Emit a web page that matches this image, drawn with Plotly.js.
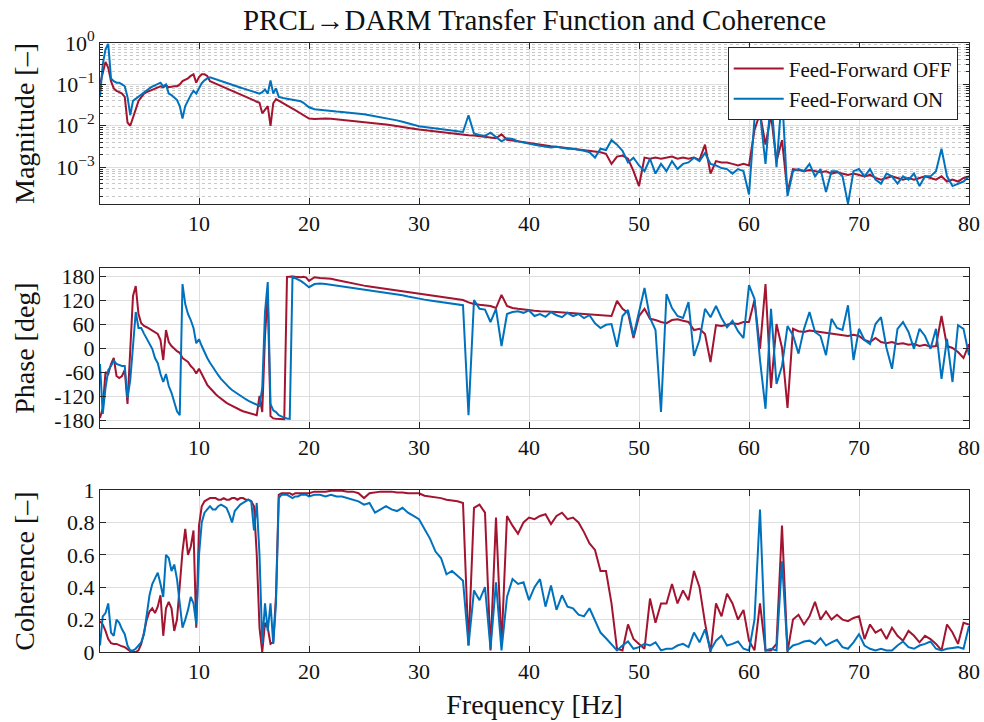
<!DOCTYPE html>
<html>
<head>
<meta charset="utf-8">
<script src="https://cdn.plot.ly/plotly-3.0.1.min.js"></script>
<style>html,body{margin:0;padding:0;background:#fff;}#chart{width:984px;height:722px;}</style>
</head>
<body>
<div id="chart"></div>
<script>
// Frequency axis [Hz]
const freq = [
  1.00,1.25,1.50,1.75, 2.00,2.25,2.50,2.75, 3.00,3.25,3.50,3.75, 4.00,4.25,4.50,4.75,
  5.00,5.25,5.50,5.75, 6.00,6.25,6.50,6.75, 7.00,7.25,7.50,7.75, 8.00,8.25,8.50,8.75,
  9.00,9.25,9.50,9.75, 10.00,10.25,10.50,10.75, 11.00,11.25,11.50,11.75, 12.00,12.25,12.50,12.75,
  13.00,13.25,13.50,13.75, 14.00,14.25,14.50,14.75, 15.00,15.25,15.50,15.75, 16.00,16.25,16.50,16.75,
  17.00,17.25,17.50,17.75, 18.00,18.25,18.50,18.75, 19.00,19.25,19.50,19.75, 20.00,
  20.5,21,21.5,22,22.5,23,23.5,24,24.5,25,
  25.5,26,26.5,27,27.5,28,28.5,29,29.5,30,
  30.5,31,31.5,32,32.5,33,33.5,34,34.5,35,
  35.5,36,36.5,37,37.5,38,38.5,39,39.5,40,
  40.5,41,41.5,42,42.5,43,43.5,44,44.5,45,
  45.5,46,46.5,47,47.5,48,48.5,49,49.5,50,
  50.5,51,51.5,52,52.5,53,53.5,54,54.5,55,
  55.5,56,56.5,57,57.5,58,58.5,59,59.5,60,
  60.5,61,61.5,62,62.5,63,63.5,64,64.5,65,
  65.5,66,66.5,67,67.5,68,68.5,69,69.5,70,
  70.5,71,71.5,72,72.5,73,73.5,74,74.5,75,
  75.5,76,76.5,77,77.5,78,78.5,79,79.5,80
];

// Magnitude [-], Feed-Forward OFF
const magOff = [
  0.1,0.2,0.35,0.25, 0.12,0.08,0.07,0.065, 0.06,0.05,0.012,0.01, 0.015,0.025,0.04,0.05,
  0.06,0.065,0.07,0.075, 0.08,0.085,0.09,0.085, 0.095,0.085,0.088,0.09, 0.09,0.1,0.12,0.13,
  0.14,0.16,0.175,0.11, 0.15,0.175,0.175,0.16, 0.12,0.112,0.105,0.098, 0.091,0.085,0.079,0.074,
  0.07,0.066,0.062,0.058, 0.054,0.05,0.047,0.044, 0.041,0.038,0.036,0.02, 0.025,0.03,0.01,0.035,
  0.044,0.04,0.037,0.034, 0.031,0.028,0.026,0.024, 0.022,0.02,0.018,0.0165, 0.015,
  0.0145,0.0148,0.015,0.0147,0.0143,0.0139,0.0135,0.0131,0.0127,0.0123,
  0.0119,0.0115,0.0111,0.0107,0.0103,0.0099,0.0094,0.009,0.0085,0.0081,
  0.0078,0.0075,0.0072,0.0069,0.0067,0.0065,0.0063,0.0061,0.0059,0.0058,
  0.0056,0.0054,0.0052,0.005,0.0062,0.0046,0.0044,0.0042,0.004,0.0038,
  0.0036,0.0034,0.0033,0.0032,0.0031,0.003,0.0029,0.0028,0.0027,0.0026,
  0.0025,0.0024,0.0023,0.0021,0.0012,0.0018,0.0019,0.0016,0.0008,0.00035,
  0.0017,0.0016,0.0017,0.0016,0.0017,0.0018,0.0016,0.0017,0.0016,0.0017,
  0.0015,0.0035,0.0007,0.0014,0.0013,0.0013,0.0012,0.0011,0.0012,0.0011,
  0.008,0.02,0.0035,0.018,0.0014,0.0045,0.00025,0.0009,0.00085,0.0008,
  0.00085,0.0008,0.00075,0.0008,0.0007,0.00075,0.0007,0.00065,0.0007,0.00065,
  0.0006,0.00065,0.00055,0.0005,0.00055,0.0006,0.00055,0.0005,0.00055,0.0005,
  0.00055,0.0006,0.00055,0.0005,0.0006,0.00045,0.0005,0.00045,0.00055,0.0006
];

// Magnitude [-], Feed-Forward ON
const magOn = [
  0.05,0.3,0.7,0.95, 0.14,0.12,0.11,0.11, 0.1,0.09,0.05,0.018, 0.04,0.045,0.05,0.058,
  0.066,0.072,0.08,0.088, 0.096,0.1,0.11,0.09, 0.1,0.06,0.055,0.048, 0.042,0.03,0.015,0.03,
  0.042,0.055,0.07,0.06, 0.08,0.107,0.125,0.14, 0.148,0.14,0.133,0.126, 0.12,0.114,0.108,0.103,
  0.098,0.093,0.088,0.084, 0.08,0.076,0.072,0.069, 0.066,0.063,0.06,0.065, 0.075,0.06,0.125,0.06,
  0.08,0.05,0.047,0.046, 0.045,0.044,0.043,0.042, 0.041,0.039,0.036,0.031, 0.028,
  0.025,0.024,0.023,0.0225,0.022,0.0215,0.021,0.0205,0.0195,0.019,
  0.018,0.017,0.0162,0.0155,0.0145,0.0135,0.0125,0.0115,0.0107,0.0098,
  0.0094,0.009,0.0086,0.0082,0.0079,0.0076,0.0073,0.0071,0.018,0.0065,
  0.006,0.0057,0.0068,0.0052,0.0042,0.005,0.0048,0.0042,0.004,0.0037,
  0.0035,0.0033,0.0032,0.003,0.0031,0.0029,0.0028,0.0028,0.0027,0.0025,
  0.0023,0.0017,0.0028,0.0026,0.0045,0.0035,0.0025,0.0013,0.0017,0.0011,
  0.0008,0.0016,0.0007,0.0012,0.0008,0.0014,0.0009,0.0012,0.0013,0.0017,
  0.0014,0.0022,0.0012,0.0011,0.00095,0.0009,0.0007,0.0009,0.0008,0.00022,
  0.015,0.02,0.0012,0.05,0.001,0.06,0.0002,0.0008,0.0009,0.0008,
  0.0012,0.0006,0.0009,0.00025,0.0008,0.0008,0.0006,0.00013,0.0008,0.0009,
  0.0006,0.0009,0.0005,0.0004,0.0007,0.0006,0.0004,0.0006,0.0005,0.0007,
  0.00035,0.0006,0.0006,0.0008,0.0028,0.0006,0.00035,0.0004,0.00045,0.0006
];

// Phase [deg], Feed-Forward OFF
const phaseOff = [
  -175,-150,-60,-65, -40,-25,-70,-75, -70,-55,-140,-20, 130,155,85,62,
  55,52,48,45, 40,35,20,-30, 45,15,5,-2, -8,-12,-25,-30,
  -35,-45,-52,-64, -52,-65,-80,-92, -100,-108,-115,-121, -127,-132,-137,-141,
  -145,-149,-152,-155, -158,-160,-162,-164, -166,-168,-120,-160, 30,135,-170,-176,
  -177,-177,-178,-178, 178,179,179,178, 177,177,178,176, 168,
  177,175,174,173,170,167,164,161,158,156,
  154,152,150,148,146,144,142,140,138,136,
  134,132,130,128,126,124,122,120,114,110,
  108,106,105,100,133,105,100,98,96,94,
  93,92,92,91,90,89,88,87,86,85,
  84,83,82,81,80,118,98,88,25,80,
  98,73,70,65,62,70,72,68,65,45,
  48,35,-35,57,55,58,62,60,65,65,
  120,-2,160,-100,60,0,-150,48,42,40,
  44,42,40,38,36,35,32,30,33,30,
  20,15,25,15,12,15,10,12,8,10,
  5,8,3,5,80,5,0,-10,-25,10
];

// Phase [deg], Feed-Forward ON
const phaseOn = [
  -40,-165,-100,-55, -45,-32,-40,-43, -45,-45,-125,-80, -5,90,50,50,
  36,22,10,-2, -25,-38,-65,-85, -65,-95,-112,-135, -158,-168,160,110,
  85,70,50,12, 22,5,-12,-25, -37,-48,-58,-68, -77,-85,-92,-99,
  -105,-110,-115,-120, -124,-128,-132,-135, -138,-141,-145,-100, 90,165,-140,-156,
  -160,-168,-172,-174, -176,-177,178,175, 172,168,163,157, 152,
  160,161,160,158,157,155,153,151,149,147,
  145,143,141,139,137,135,132,129,126,123,
  121,119,117,115,113,111,109,107,-168,120,
  98,96,65,98,5,85,90,92,88,94,
  80,85,78,90,82,77,88,80,85,75,
  82,62,50,58,60,3,80,95,30,90,
  150,75,45,-160,135,100,80,75,115,-20,
  20,98,77,105,75,52,68,42,25,157,
  123,-30,-152,98,-90,-45,55,32,-14,48,
  90,40,30,-18,73,50,45,107,-30,48,
  20,10,60,77,0,-52,48,65,40,-2,
  48,30,-2,48,-77,23,-85,57,48,-18
];

// Coherence [-], Feed-Forward OFF
const cohOff = [
  0.19,0.17,0.13,0.08, 0.055,0.05,0.05,0.04, 0.035,0.03,0.015,0.005, 0,0,0.01,0.05,
  0.12,0.2,0.25,0.27, 0.24,0.28,0.35,0.1, 0.27,0.31,0.27,0.13, 0.2,0.42,0.62,0.76,
  0.6,0.65,0.75,0.15, 0.78,0.9,0.93,0.94, 0.95,0.95,0.95,0.94, 0.94,0.95,0.94,0.94,
  0.95,0.95,0.94,0.95, 0.95,0.94,0.94,0.93, 0.9,0.6,0.15,0, 0.18,0.15,0.05,0.06,
  0.35,0.97,0.98,0.98, 0.98,0.98,0.97,0.98, 0.98,0.98,0.98,0.98, 0.98,
  0.99,0.99,0.99,0.995,0.995,0.995,0.99,0.99,0.98,0.95,
  0.98,0.985,0.99,0.99,0.99,0.985,0.985,0.98,0.98,0.98,
  0.965,0.96,0.955,0.95,0.94,0.935,0.93,0.92,0.04,0.89,
  0.91,0.86,0.01,0.83,0.04,0.84,0.78,0.73,0.8,0.83,
  0.82,0.84,0.85,0.79,0.84,0.86,0.82,0.83,0.8,0.74,
  0.67,0.63,0.5,0.5,0.3,0.02,0.01,0.17,0.08,0.05,
  0.02,0.33,0.18,0.3,0.3,0.42,0.3,0.38,0.32,0.5,
  0.4,0.18,0,0.3,0.22,0.36,0.3,0.2,0.26,0.07,
  0.01,0.3,0.01,0.01,0.05,0.78,0,0.2,0.23,0.17,
  0.22,0.31,0.2,0.25,0.2,0.23,0.2,0.19,0.21,0.22,
  0.08,0.17,0.12,0.14,0.08,0.15,0.1,0.07,0.13,0.1,
  0.06,0.1,0.08,0.05,0.01,0.17,0.12,0.05,0.18,0.17
];

// Coherence [-], Feed-Forward ON
const cohOn = [
  0.04,0.22,0.24,0.3, 0.12,0.1,0.2,0.18, 0.14,0.11,0.04,0.01, 0.01,0.02,0.04,0.06,
  0.11,0.24,0.35,0.42, 0.46,0.49,0.42,0.34, 0.6,0.58,0.5,0.54, 0.45,0.28,0.15,0.2,
  0.26,0.34,0.3,0.17, 0.6,0.8,0.86,0.88, 0.9,0.88,0.88,0.9, 0.91,0.9,0.89,0.85,
  0.8,0.87,0.89,0.91, 0.92,0.93,0.94,0.93, 0.75,0.92,0.6,0.05, 0.3,0.13,0.3,0.05,
  0.3,0.95,0.97,0.97, 0.97,0.96,0.95,0.96, 0.96,0.97,0.97,0.97, 0.96,
  0.97,0.97,0.96,0.97,0.96,0.96,0.95,0.94,0.93,0.91,
  0.92,0.86,0.88,0.9,0.88,0.87,0.89,0.86,0.84,0.82,
  0.76,0.7,0.62,0.58,0.48,0.5,0.47,0.44,0.04,0.38,
  0.32,0.4,0.02,0.43,0.01,0.34,0.45,0.42,0.43,0.32,
  0.4,0.45,0.28,0.41,0.26,0.35,0.28,0.27,0.23,0.22,
  0.27,0.2,0.12,0.085,0.05,0.01,0.04,0.065,0.02,0.03,
  0.05,0.04,0.06,0.01,0.02,0.02,0.04,0.05,0.03,0.12,
  0.06,0.14,0.01,0.07,0.1,0.04,0.05,0.065,0.02,0.01,
  0.2,0.88,0.01,0.02,0.01,0.56,0.01,0.04,0.05,0.065,
  0.07,0.05,0.085,0.04,0.06,0.075,0.03,0.02,0.06,0.11,
  0.04,0.02,0.01,0.02,0.01,0.01,0.04,0.065,0.03,0.02,
  0.04,0.05,0.065,0.02,0.01,0.02,0.025,0.03,0.02,0.16
];

const seriesNames = ['Feed-Forward OFF', 'Feed-Forward ON'];
const xTicks = [10, 20, 30, 40, 50, 60, 70, 80];
const magTicks = [0.001, 0.01, 0.1, 1];
const magTickText = ['10<sup>−3</sup>', '10<sup>−2</sup>', '10<sup>−1</sup>', '10<sup>0</sup>'];
const phaseTicks = [-180, -120, -60, 0, 60, 120, 180];
const phaseTickText = ['-180', '-120', '-60', '0', '60', '120', '180'];
const cohTicks = [0, 0.2, 0.4, 0.6, 0.8, 1];
const cohTickText = ['0', '0.2', '0.4', '0.6', '0.8', '1'];

[magOff, magOn, phaseOff, phaseOn, cohOff, cohOn].forEach(function (a, i) {
  if (a.length !== freq.length) throw new Error('length mismatch in series ' + i + ': ' + a.length + ' vs ' + freq.length);
});

// minor log grid (2..9 x decade)
const magMinor = [];
[0.0001, 0.001, 0.01, 0.1].forEach(function (d) {
  for (let k = 2; k <= 9; k++) magMinor.push(+(k * d).toPrecision(3));
});

const RED = '#A2142F', BLUE = '#0072BD';
const FONT = 'Liberation Serif';
const GRID = '#dedede';
const AX = '#262626';
const TXT = '#111111';

function tr(y, color, name, xa, ya, show) {
  return { x: freq, y: y, type: 'scatter', mode: 'lines', name: name,
    line: { color: color, width: 2 }, xaxis: xa, yaxis: ya, showlegend: show, hoverinfo: 'skip' };
}

const data = [
  tr(magOff, RED, seriesNames[0], 'x', 'y', true),
  tr(magOn, BLUE, seriesNames[1], 'x', 'y', true),
  tr(phaseOff, RED, seriesNames[0], 'x2', 'y2', false),
  tr(phaseOn, BLUE, seriesNames[1], 'x2', 'y2', false),
  tr(cohOff, RED, seriesNames[0], 'x3', 'y3', false),
  tr(cohOn, BLUE, seriesNames[1], 'x3', 'y3', false)
];

function xax(anchor, title) {
  const a = { anchor: anchor, domain: [0, 1], range: [1, 80], tickmode: 'array', tickvals: xTicks,
    showgrid: true, gridcolor: GRID, gridwidth: 1, zeroline: false,
    showline: true, linecolor: AX, linewidth: 1, mirror: 'ticks',
    ticks: 'inside', ticklen: 6, tickwidth: 1, tickcolor: AX,
    tickfont: { family: FONT, size: 22, color: TXT } };
  if (title) a.title = { text: title, font: { family: FONT, size: 28, color: TXT }, standoff: 10 };
  return a;
}

function yax(anchor, domain, extra) {
  const a = { anchor: anchor, domain: domain, zeroline: false,
    showgrid: true, gridcolor: GRID, gridwidth: 1,
    showline: true, linecolor: AX, linewidth: 1, mirror: 'ticks',
    ticks: 'inside', ticklen: 6, tickwidth: 1, tickcolor: AX,
    tickfont: { family: FONT, size: 22, color: TXT }, tickmode: 'array' };
  return Object.assign(a, extra);
}

const layout = {
  width: 984, height: 722,
  margin: { l: 100, r: 15, t: 43, b: 70 },
  paper_bgcolor: '#ffffff', plot_bgcolor: '#ffffff',
  font: { family: FONT, color: TXT },
  title: { text: 'PRCL→DARM Transfer Function and Coherence', font: { family: FONT, size: 29, color: TXT },
    x: 0.5, xref: 'paper', y: 0.972, yref: 'container', yanchor: 'middle' },
  showlegend: true,
  legend: { x: 0.987, xanchor: 'right', y: 0.993, yanchor: 'top', bgcolor: '#ffffff',
    bordercolor: AX, borderwidth: 1, font: { family: FONT, size: 21, color: TXT },
    tracegroupgap: 0, itemwidth: 50 },
  xaxis: xax('y'),
  xaxis2: xax('y2'),
  xaxis3: xax('y3', 'Frequency [Hz]'),
  yaxis: yax('x', [0.7356, 1], {
    type: 'log', range: [-3.89, 0], tickvals: magTicks, ticktext: magTickText,
    title: { text: 'Magnitude [–]', font: { family: FONT, size: 28, color: TXT } },
    minor: { tickmode: 'array', tickvals: magMinor, ticks: 'inside', ticklen: 3, tickcolor: AX,
      showgrid: true, gridcolor: '#c8c8c8', griddash: 'dot', gridwidth: 1 }
  }),
  yaxis2: yax('x2', [0.3678, 0.6305], {
    range: [-200, 200], tickvals: phaseTicks, ticktext: phaseTickText,
    title: { text: 'Phase [deg]', font: { family: FONT, size: 28, color: TXT } }
  }),
  yaxis3: yax('x3', [0, 0.266], {
    range: [0, 1], tickvals: cohTicks, ticktext: cohTickText,
    title: { text: 'Coherence [–]', font: { family: FONT, size: 28, color: TXT } }
  })
};

Plotly.newPlot('chart', data, layout, { staticPlot: true, displayModeBar: false });
</script>
</body>
</html>
